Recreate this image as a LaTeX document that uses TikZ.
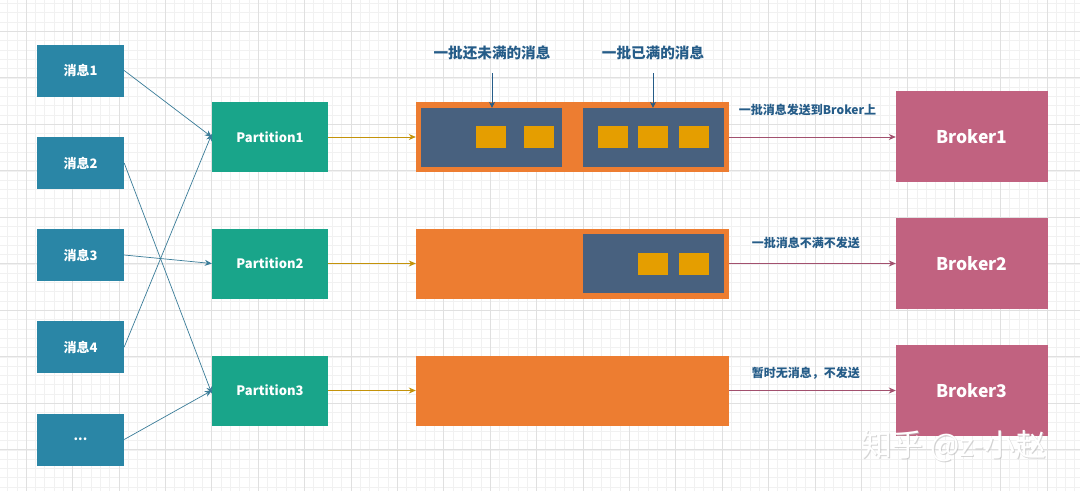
\documentclass[tikz,border=0pt]{standalone}
\usepackage{fontspec}
\setmainfont{Noto Sans CJK SC}
\usetikzlibrary{arrows.meta}
\definecolor{msgc}{HTML}{2A86A6}
\definecolor{partc}{HTML}{19A58A}
\definecolor{barc}{HTML}{ED7D31}
\definecolor{batchc}{HTML}{48617F}
\definecolor{itemc}{HTML}{E59E00}
\definecolor{brokc}{HTML}{C16280}
\definecolor{lblc}{HTML}{255C88}
\definecolor{msgarr}{HTML}{3A7C98}
\definecolor{parr}{HTML}{C4930A}
\definecolor{barr}{HTML}{A2506E}
\tikzset{
  box/.style={draw=none, inner sep=0pt, text=white, font=\fontsize{13}{15}\selectfont\bfseries},
  msgbox/.style={box, fill=msgc, minimum width=87pt, minimum height=52pt},
  partbox/.style={box, fill=partc, minimum width=116pt, minimum height=70pt},
  barbox/.style={draw=none, fill=barc, minimum width=313pt, minimum height=70pt, inner sep=0pt},
  batchbox/.style={draw=none, fill=batchc, minimum width=141pt, inner sep=0pt},
  itembox/.style={draw=none, fill=itemc, minimum width=30pt, minimum height=22pt, inner sep=0pt},
  brokbox/.style={box, fill=brokc, minimum width=152pt, minimum height=91pt, font=\fontsize{17.5}{20}\selectfont\bfseries},
  lbl/.style={text=lblc, font=\fontsize{14.6}{17}\selectfont\bfseries, inner sep=0pt},
  elbl/.style={text=lblc, font=\fontsize{12}{14}\selectfont\bfseries, inner sep=0pt},
  marr/.style={draw=msgarr, line width=0.7pt, -{Stealth[length=7pt,width=6pt]}},
  parrow/.style={draw=parr, line width=0.8pt, -{Stealth[length=7pt,width=6pt]}},
  barrow/.style={draw=barr, line width=0.8pt, -{Stealth[length=7pt,width=6pt]}},
  larrow/.style={draw=lblc, line width=0.8pt, -{Stealth[length=6pt,width=6pt]}},
}
\begin{document}
\begin{tikzpicture}[x=1pt,y=-1pt]
\useasboundingbox (0,0) rectangle (1080,491);
\fill[white] (0,0) rectangle (1080,491);
% grid
\foreach \i in {-2,...,114} {
  \draw[gray!11, line width=0.4pt] ({26+9.28*\i},0) -- ({26+9.28*\i},491);
}
\foreach \i in {-3,...,50} {
  \draw[gray!11, line width=0.4pt] (0,{31.2+9.3*\i}) -- (1080,{31.2+9.3*\i});
}
\foreach \i in {0,...,23} {
  \draw[gray!24, line width=0.6pt] ({26+46.4*\i},0) -- ({26+46.4*\i},491);
}
\foreach \i in {-1,...,10} {
  \draw[gray!24, line width=0.6pt] (0,{31.2+46.5*\i}) -- (1080,{31.2+46.5*\i});
}
% messages
\node[msgbox] (m1) at (80.5,70.5) {消息1};
\node[msgbox] (m2) at (80.5,163) {消息2};
\node[msgbox] (m3) at (80.5,255) {消息3};
\node[msgbox] (m4) at (80.5,347) {消息4};
\node[msgbox] (m5) at (80.5,439.5) {...};
% partitions
\node[partbox] (p1) at (270,137) {Partition1};
\node[partbox] (p2) at (270,263.5) {Partition2};
\node[partbox] (p3) at (270,390.5) {Partition3};
% bars
\node[barbox] (b1) at (572.5,137) {};
\node[barbox] (b2) at (572.5,263.5) {};
\node[barbox] (b3) at (572.5,390.5) {};
% batches
\node[batchbox, minimum height=59pt] (q1) at (491.5,137.5) {};
\node[batchbox, minimum height=59pt] (q2) at (653.5,137.5) {};
\node[batchbox, minimum height=59pt] (q3) at (653.5,263.5) {};
% items
\node[itembox] (i1) at (491,137) {};
\node[itembox] (i2) at (538.5,137) {};
\node[itembox] (i3) at (612.5,137) {};
\node[itembox] (i4) at (653,137) {};
\node[itembox] (i5) at (694,137) {};
\node[itembox] (i6) at (653,263.5) {};
\node[itembox] (i7) at (694,263.5) {};
% brokers
\node[brokbox] (k1) at (972,136.5) {Broker1};
\node[brokbox] (k2) at (972,263.5) {Broker2};
\node[brokbox] (k3) at (972,390.5) {Broker3};
% top labels
\node[lbl] (t1) at (492,53) {一批还未满的消息};
\node[lbl] (t2) at (653,53) {一批已满的消息};
\coordinate (t1s) at (492,73);
\coordinate (t2s) at (653,73);
\draw[larrow] (t1s) -- (q1.north -| t1s);
\draw[larrow] (t2s) -- (q2.north -| t2s);
% message arrows
\draw[marr] (m1.east) -- ([yshift=0pt]p1.west);
\draw[marr] (m2.east) -- ([yshift=-3pt]p3.west);
\draw[marr] (m3.east) -- (p2.west);
\draw[marr] (m4.east) -- ([yshift=3pt]p1.west);
\draw[marr] (m5.east) -- ([yshift=0pt]p3.west);
% partition -> bar
\draw[parrow] (p1.east) -- (b1.west);
\draw[parrow] (p2.east) -- (b2.west);
\draw[parrow] (p3.east) -- (b3.west);
% bar -> broker
\draw[barrow] (b1.east) -- (k1.west |- b1.east) node[elbl, pos=0.47, above=21pt] {一批消息发送到Broker上};
\draw[barrow] (b2.east) -- (k2.west) node[elbl, pos=0.46, above=14pt] {一批消息不满不发送};
\draw[barrow] (b3.east) -- (k3.west) node[elbl, pos=0.46, above=11pt] {暂时无消息，不发送};
% watermark
\node[text=gray!55, font=\fontsize{31}{34}\selectfont, inner sep=0pt, opacity=0.6] at (955,447.5) {知乎 @z-小赵};
\node[text=white, font=\fontsize{31}{34}\selectfont, inner sep=0pt] (wm) at (954,446.5) {知乎 @z-小赵};
\end{tikzpicture}
\end{document}
